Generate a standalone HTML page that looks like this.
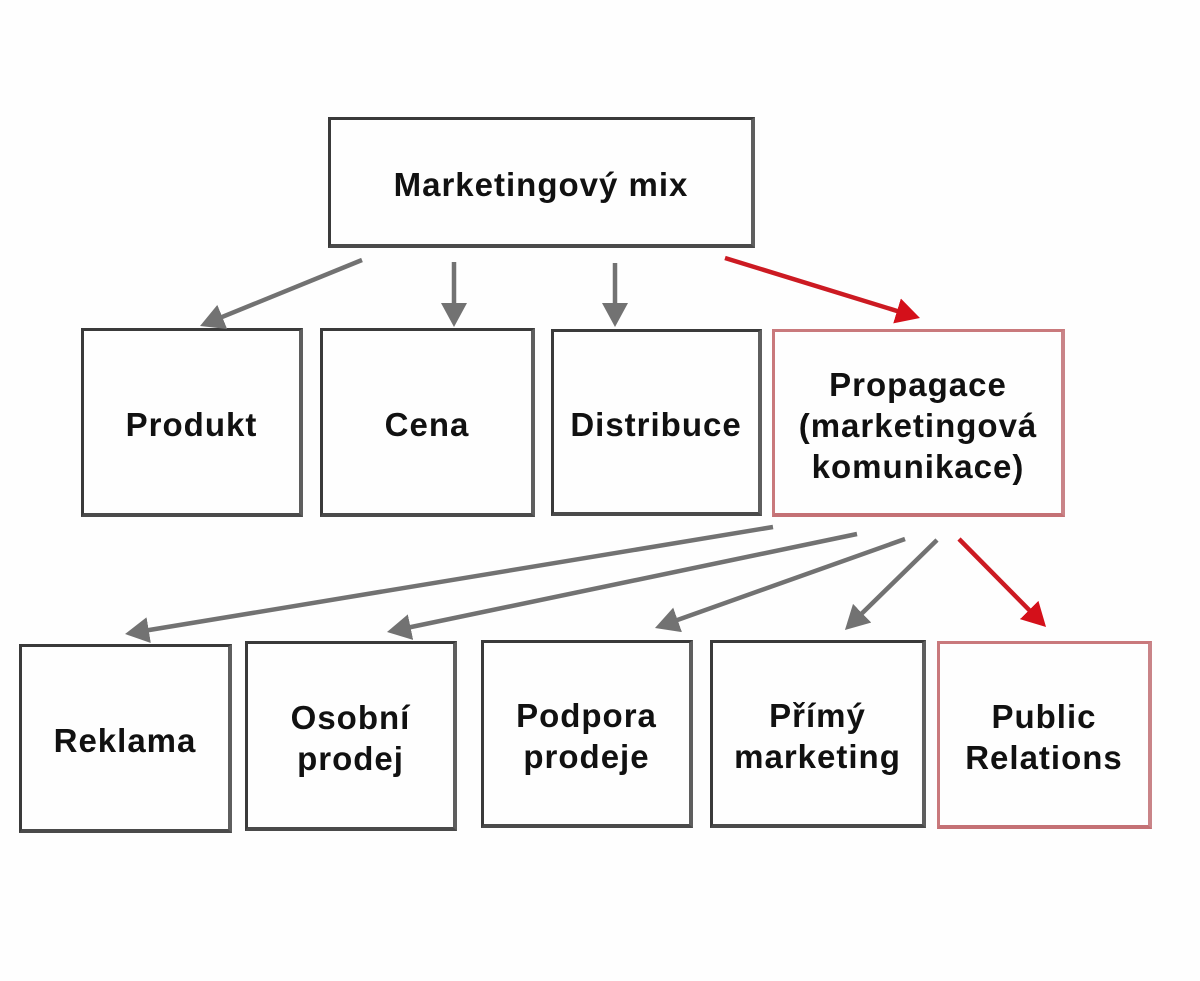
<!DOCTYPE html>
<html>
<head>
<meta charset="utf-8">
<style>
  html, body { margin:0; padding:0; }
  body { width:1200px; height:981px; background:#fefefe; position:relative; overflow:hidden;
         font-family:"Liberation Sans", Arial, sans-serif; }
  .b { position:absolute; box-sizing:border-box; background:#fefefe;
       border-top:3px solid #3a3a3a; border-left:3px solid #3a3a3a;
       border-right:4px solid #5e5e5e; border-bottom:4px solid #4a4a4a;
       display:flex; align-items:center; justify-content:center; text-align:center;
       font-weight:bold; font-size:33px; line-height:41px; letter-spacing:1px; color:#111;
       padding-top:5px; }
  .r { border-color:#c9797c; border-right-color:#c98488; border-bottom-color:#c47175; }
  svg { position:absolute; left:0; top:0; }
</style>
</head>
<body>
<div class="b" style="left:328px;top:117px;width:427px;height:131px;">Marketingový mix</div>

<div class="b" style="left:81px;top:328px;width:222px;height:189px;">Produkt</div>
<div class="b" style="left:320px;top:328px;width:215px;height:189px;">Cena</div>
<div class="b" style="left:551px;top:329px;width:211px;height:187px;">Distribuce</div>
<div class="b r" style="left:772px;top:329px;width:293px;height:188px;">Propagace<br>(marketingová<br>komunikace)</div>

<div class="b" style="left:19px;top:644px;width:213px;height:189px;">Reklama</div>
<div class="b" style="left:245px;top:641px;width:212px;height:190px;">Osobní<br>prodej</div>
<div class="b" style="left:481px;top:640px;width:212px;height:188px;">Podpora<br>prodeje</div>
<div class="b" style="left:710px;top:640px;width:216px;height:188px;">Přímý<br>marketing</div>
<div class="b r" style="left:937px;top:641px;width:215px;height:188px;">Public<br>Relations</div>

<svg width="1200" height="981" viewBox="0 0 1200 981">
  <defs>
    <marker id="ag" markerUnits="userSpaceOnUse" markerWidth="26" markerHeight="28" refX="14" refY="13" orient="auto">
      <path d="M0,0 L24,13 L0,26 z" fill="#727272"/>
    </marker>
    <marker id="ar" markerUnits="userSpaceOnUse" markerWidth="26" markerHeight="28" refX="14" refY="13" orient="auto">
      <path d="M0,0 L24,13 L0,26 z" fill="#d4101a"/>
    </marker>
  </defs>
  <g stroke="#727272" stroke-width="4.5" fill="none">
    <line x1="362" y1="260" x2="209.3" y2="322.2" marker-end="url(#ag)"/>
    <line x1="454" y1="262" x2="454" y2="317" marker-end="url(#ag)"/>
    <line x1="615" y1="263" x2="615" y2="317" marker-end="url(#ag)"/>
    <line x1="773" y1="527" x2="134.9" y2="632.4" marker-end="url(#ag)"/>
    <line x1="857" y1="534" x2="396.8" y2="630.0" marker-end="url(#ag)"/>
    <line x1="905" y1="539" x2="664.4" y2="624.6" marker-end="url(#ag)"/>
    <line x1="937" y1="540" x2="852.1" y2="623.0" marker-end="url(#ag)"/>
  </g>
  <g stroke="#cc1a22" stroke-width="4.5" fill="none">
    <line x1="725" y1="258" x2="910.4" y2="315.1" marker-end="url(#ar)"/>
    <line x1="959" y1="539" x2="1039.0" y2="619.9" marker-end="url(#ar)"/>
  </g>
</svg>
</body>
</html>
